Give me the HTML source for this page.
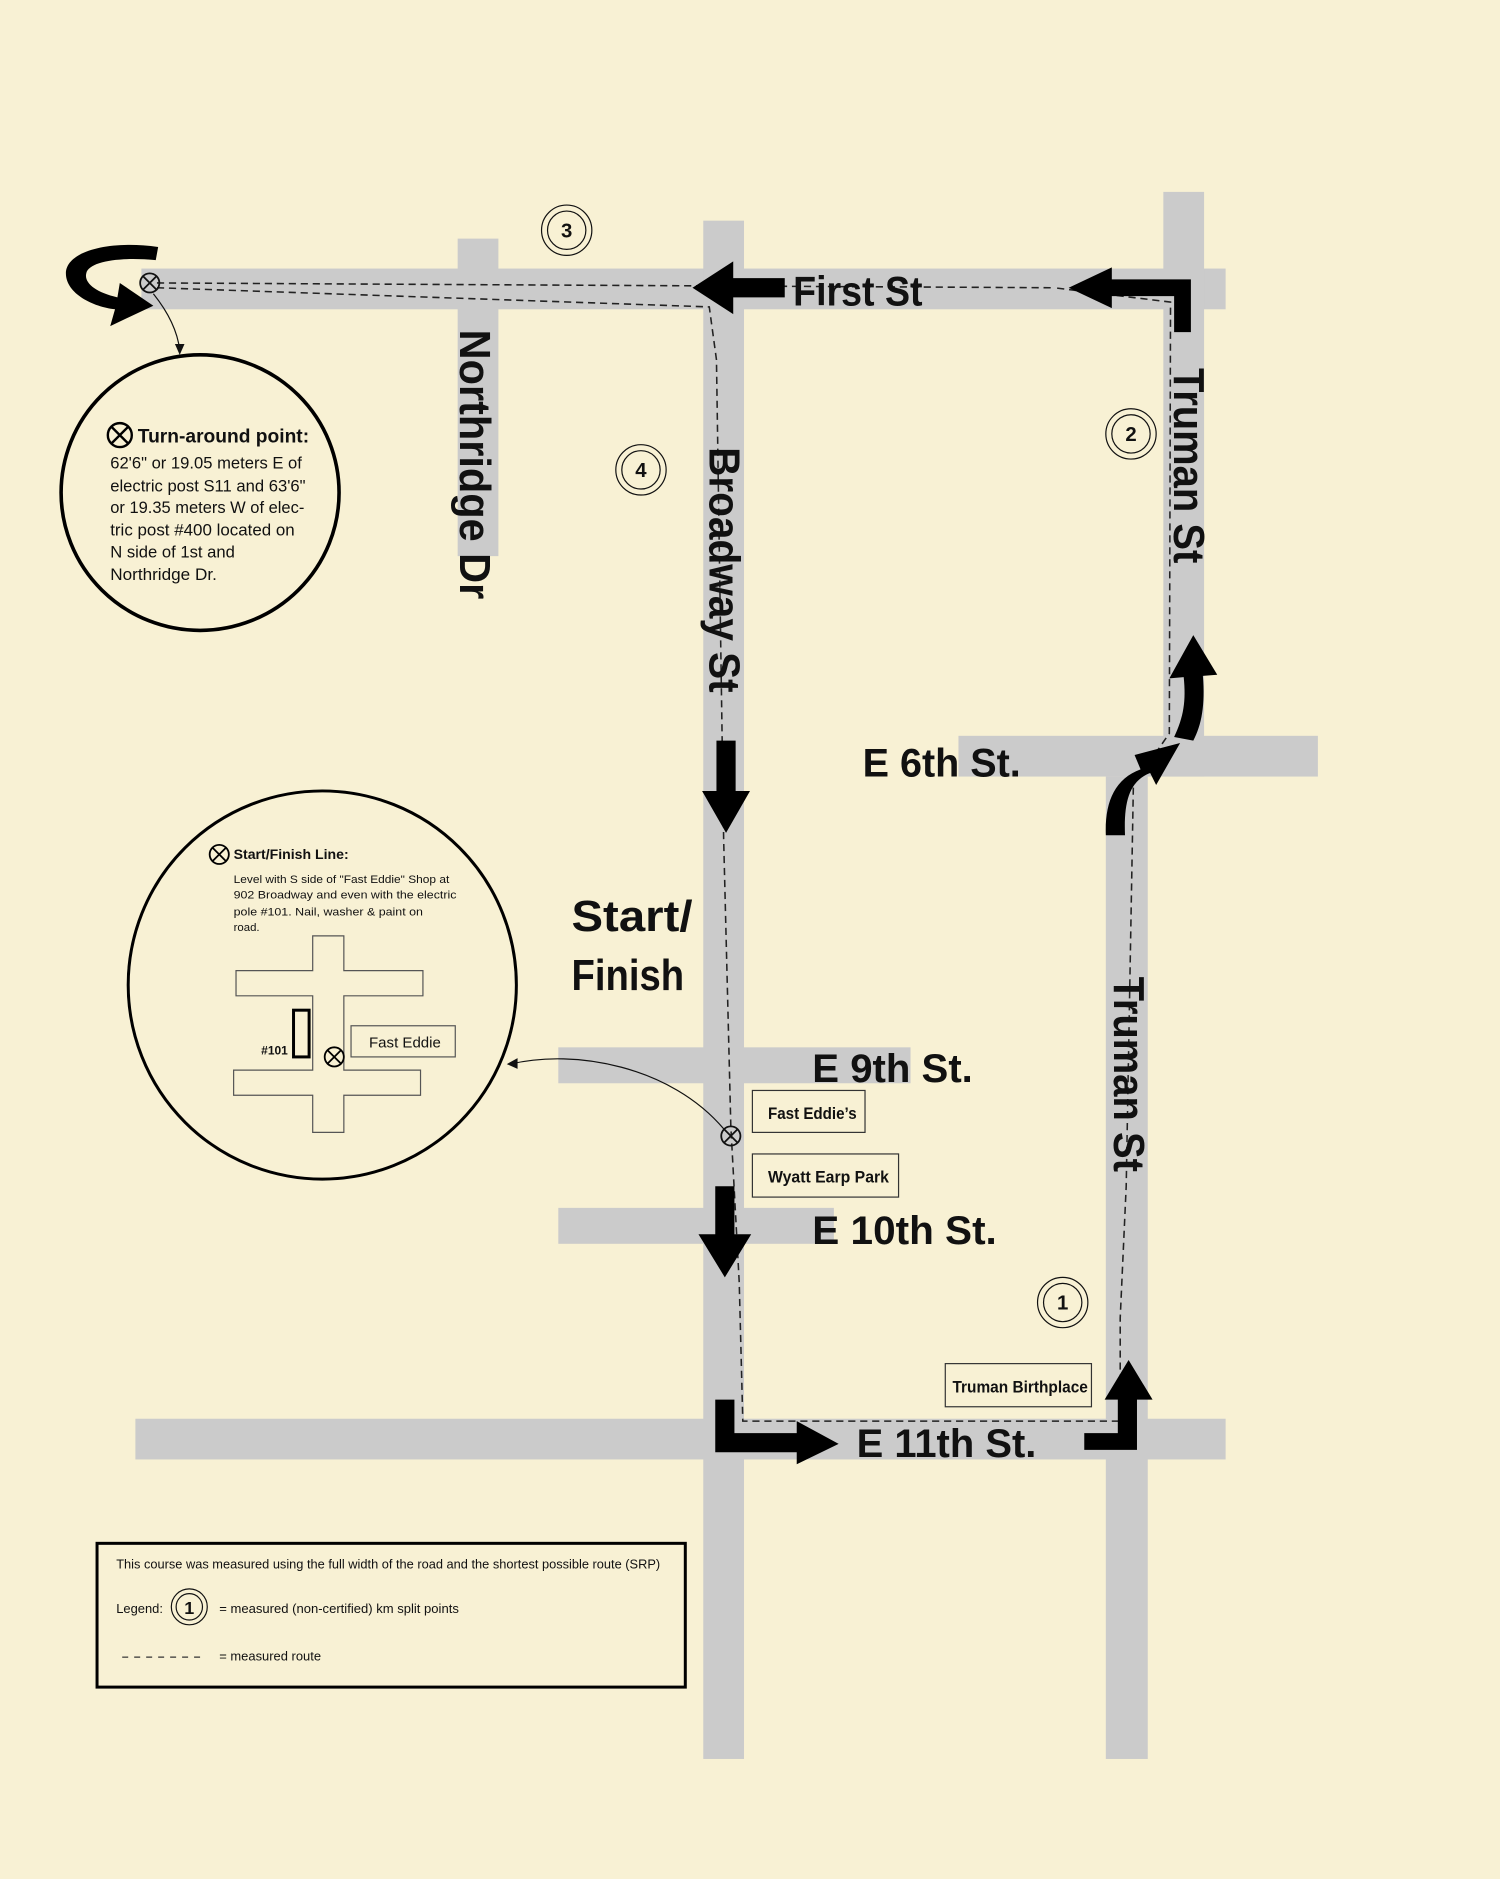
<!DOCTYPE html>
<html><head><meta charset="utf-8"><style>
html,body{margin:0;padding:0;background:#f8f1d4;}
svg{display:block}
.rd{fill:#cbcbcb}
.lb{font-family:"Liberation Sans",sans-serif;font-weight:900;fill:#111}
.sm{font-family:"Liberation Sans",sans-serif;fill:#111}
.ar{fill:#000}
</style></head><body>
<svg width="1500" height="1879" viewBox="0 0 1252 1568" xmlns="http://www.w3.org/2000/svg">
<rect width="1252" height="1568" fill="#f8f1d4"/>
<!-- roads -->
<rect class="rd" x="118" y="224" width="905" height="34"/>
<rect class="rd" x="382" y="199" width="34" height="265"/>
<rect class="rd" x="587" y="184" width="34" height="1284"/>
<rect class="rd" x="971" y="160" width="34" height="488"/>
<rect class="rd" x="800" y="614" width="300" height="34"/>
<rect class="rd" x="923" y="648" width="35" height="820"/>
<rect class="rd" x="466" y="874" width="294" height="30"/>
<rect class="rd" x="466" y="1008" width="230" height="30"/>
<rect class="rd" x="113" y="1184" width="910" height="34"/>

<!-- dashed route -->
<g fill="none" stroke="#222" stroke-width="1.3" stroke-dasharray="6,4">
<path d="M131,236 L880,240"/>
<path d="M131,240 L592,256 L598,300 L604,700 L610,940 L617,1070 L620,1186 L935,1186 L935,1100 L940,990 L946,655 L976,612 L977,252 L880,240"/>
</g>

<!-- arrows -->
<g class="ar">
<polygon points="578,240 612,218 612,232 655,232 655,248 612,248 612,262"/>
<path d="M980,277 V247 H928 V257 L892,240 L928,223 V233 H994 V277 Z"/>
<polygon points="598,618 614,618 614,660 626,660 606,695 586,660 598,660"/>
<polygon points="597,990 613,990 613,1030 627,1030 605,1066 583,1030 597,1030"/>
<path d="M597,1168 H613 V1196 H665 V1186 L700,1205 L665,1222 V1212 H597 Z"/>
<path d="M905,1196 H933 V1168 H922 L942,1135 L962,1168 H949 V1210 H905 Z"/>
<path d="M923,697 C922,670 930,650 952,642 L947,630 L985,620 L965,655 L960,645 C942,652 938,670 939,697 Z"/>
<path d="M980,615 C988,598 990,585 988,565 L976,566 L996,530 L1016,563 L1004,564 C1006,588 1003,605 996,618 Z"/>
<path d="M132,206 C90,200 55,210 55,228 C55,245 78,256 96,258 L92,272 L128,255 L100,236 L98,248 C80,244 70,236 72,228 C74,218 100,214 130,217 Z"/>
</g>

<!-- X markers -->
<g fill="none" stroke="#111" stroke-width="1.5">
<circle cx="125" cy="236" r="8"/><path d="M119,230 L131,242 M131,230 L119,242"/>
<circle cx="610" cy="948" r="8"/><path d="M604,942 L616,954 M616,942 L604,954"/>
<path d="M128,245 C140,260 148,275 150,292" stroke-width="1"/>
<path d="M604,942 C560,890 480,875 426,888" stroke-width="1"/>
</g>
<polygon points="150,296 146,287 154,287" fill="#111"/>
<polygon points="423,888 432,883 432,892" fill="#111"/>

<!-- road labels -->
<text class="lb" x="662" y="255" font-size="35" textLength="108" lengthAdjust="spacingAndGlyphs">First St</text>
<text class="lb" x="720" y="648" font-size="33" textLength="132" lengthAdjust="spacingAndGlyphs">E 6th St.</text>
<text class="lb" x="678" y="903" font-size="33" textLength="134" lengthAdjust="spacingAndGlyphs">E 9th St.</text>
<text class="lb" x="678" y="1038" font-size="33" textLength="154" lengthAdjust="spacingAndGlyphs">E 10th St.</text>
<text class="lb" x="715" y="1216" font-size="33" textLength="150" lengthAdjust="spacingAndGlyphs">E 11th St.</text>
<text class="lb" x="477" y="777" font-size="36" textLength="101" lengthAdjust="spacingAndGlyphs">Start/</text>
<text class="lb" x="477" y="826" font-size="36" textLength="94" lengthAdjust="spacingAndGlyphs">Finish</text>
<text class="lb" font-size="36" transform="translate(384,275) rotate(90)" textLength="225" lengthAdjust="spacingAndGlyphs">Northridge Dr</text>
<text class="lb" font-size="36" transform="translate(592,373) rotate(90)" textLength="205" lengthAdjust="spacingAndGlyphs">Broadway St</text>
<text class="lb" font-size="36" transform="translate(980,307) rotate(90)" textLength="163" lengthAdjust="spacingAndGlyphs">Truman St</text>
<text class="lb" font-size="36" transform="translate(930,815) rotate(90)" textLength="163" lengthAdjust="spacingAndGlyphs">Truman St</text>

<!-- boxes -->
<g fill="none" stroke="#333" stroke-width="1">
<rect x="628" y="910" width="94" height="35"/>
<rect x="628" y="963" width="122" height="36"/>
<rect x="789" y="1138" width="122" height="36"/>
</g>
<text class="lb" x="641" y="934" font-size="14" font-weight="700" textLength="74" lengthAdjust="spacingAndGlyphs">Fast Eddie’s</text>
<text class="lb" x="641" y="987" font-size="14" font-weight="700" textLength="101" lengthAdjust="spacingAndGlyphs">Wyatt Earp Park</text>
<text class="lb" x="795" y="1162" font-size="14" font-weight="700" textLength="113" lengthAdjust="spacingAndGlyphs">Truman Birthplace</text>

<!-- split points -->
<g fill="none" stroke="#111" stroke-width="1">
<circle cx="473" cy="192" r="21"/><circle cx="473" cy="192" r="16"/>
<circle cx="944" cy="362" r="21"/><circle cx="944" cy="362" r="16"/>
<circle cx="535" cy="392" r="21"/><circle cx="535" cy="392" r="16"/>
<circle cx="887" cy="1087" r="21"/><circle cx="887" cy="1087" r="16"/>
<circle cx="158" cy="1341" r="15"/><circle cx="158" cy="1341" r="11"/>
</g>
<g class="lb" font-size="17" text-anchor="middle">
<text x="473" y="198">3</text><text x="944" y="368">2</text><text x="535" y="398">4</text><text x="887" y="1093">1</text>
<text x="158" y="1347" font-size="15">1</text>
</g>

<!-- turnaround circle -->
<ellipse cx="167" cy="411" rx="116" ry="115" fill="none" stroke="#000" stroke-width="3"/>
<g fill="none" stroke="#000" stroke-width="2"><circle cx="100" cy="363" r="10"/><path d="M93,356 L107,370 M107,356 L93,370"/></g>
<text class="sm" x="115" y="369" font-size="16" font-weight="700" textLength="143" lengthAdjust="spacingAndGlyphs">Turn-around point:</text>
<g class="sm" font-size="13.5">
<text x="92" y="391" textLength="160" lengthAdjust="spacingAndGlyphs">62'6" or 19.05 meters E of</text>
<text x="92" y="410" textLength="163" lengthAdjust="spacingAndGlyphs">electric post S11 and 63'6"</text>
<text x="92" y="428" textLength="162" lengthAdjust="spacingAndGlyphs">or 19.35 meters W of elec-</text>
<text x="92" y="447" textLength="154" lengthAdjust="spacingAndGlyphs">tric post #400 located on</text>
<text x="92" y="465" textLength="104" lengthAdjust="spacingAndGlyphs">N side of 1st and</text>
<text x="92" y="484" textLength="89" lengthAdjust="spacingAndGlyphs">Northridge Dr.</text>
</g>

<!-- start/finish circle -->
<circle cx="269" cy="822" r="162" fill="none" stroke="#000" stroke-width="2.5"/>
<g fill="none" stroke="#000" stroke-width="1.5"><circle cx="183" cy="713" r="8"/><path d="M177,707 L189,719 M189,707 L177,719"/></g>
<text class="sm" x="195" y="717" font-size="11.5" font-weight="700" textLength="96" lengthAdjust="spacingAndGlyphs">Start/Finish Line:</text>
<g class="sm" font-size="9.5">
<text x="195" y="737" textLength="180" lengthAdjust="spacingAndGlyphs">Level with S side of "Fast Eddie" Shop at</text>
<text x="195" y="750" textLength="186" lengthAdjust="spacingAndGlyphs">902 Broadway and even with the electric</text>
<text x="195" y="764" textLength="158" lengthAdjust="spacingAndGlyphs">pole #101. Nail, washer &amp; paint on</text>
<text x="195" y="777">road.</text>
</g>
<path d="M261,781 H287 V810 H353 V831 H287 V893 H351 V914 H287 V945 H261 V914 H195 V893 H261 V831 H197 V810 H261 Z" fill="none" stroke="#555" stroke-width="1"/>
<rect x="245" y="843" width="13" height="39" fill="none" stroke="#000" stroke-width="2.5"/>
<text class="sm" x="218" y="880" font-size="10" font-weight="700">#101</text>
<g fill="none" stroke="#000" stroke-width="1.5"><circle cx="279" cy="882" r="8"/><path d="M273,876 L285,888 M285,876 L273,888"/></g>
<rect x="293" y="856" width="87" height="26" fill="none" stroke="#555" stroke-width="1"/>
<text class="sm" x="308" y="874" font-size="12.5" textLength="60" lengthAdjust="spacingAndGlyphs">Fast Eddie</text>

<!-- legend -->
<rect x="81" y="1288" width="491" height="120" fill="none" stroke="#000" stroke-width="2.5"/>
<g class="sm" font-size="10.5">
<text x="97" y="1309" textLength="454" lengthAdjust="spacingAndGlyphs">This course was measured using the full width of the road and the shortest possible route (SRP)</text>
<text x="97" y="1346" textLength="39" lengthAdjust="spacingAndGlyphs">Legend:</text>
<text x="183" y="1346" textLength="200" lengthAdjust="spacingAndGlyphs">= measured (non-certified) km split points</text>
<text x="183" y="1386" textLength="85" lengthAdjust="spacingAndGlyphs">= measured route</text>
</g>
<path d="M102,1383 H170" stroke="#333" stroke-width="1" stroke-dasharray="5,5"/>
</svg>
</body></html>
